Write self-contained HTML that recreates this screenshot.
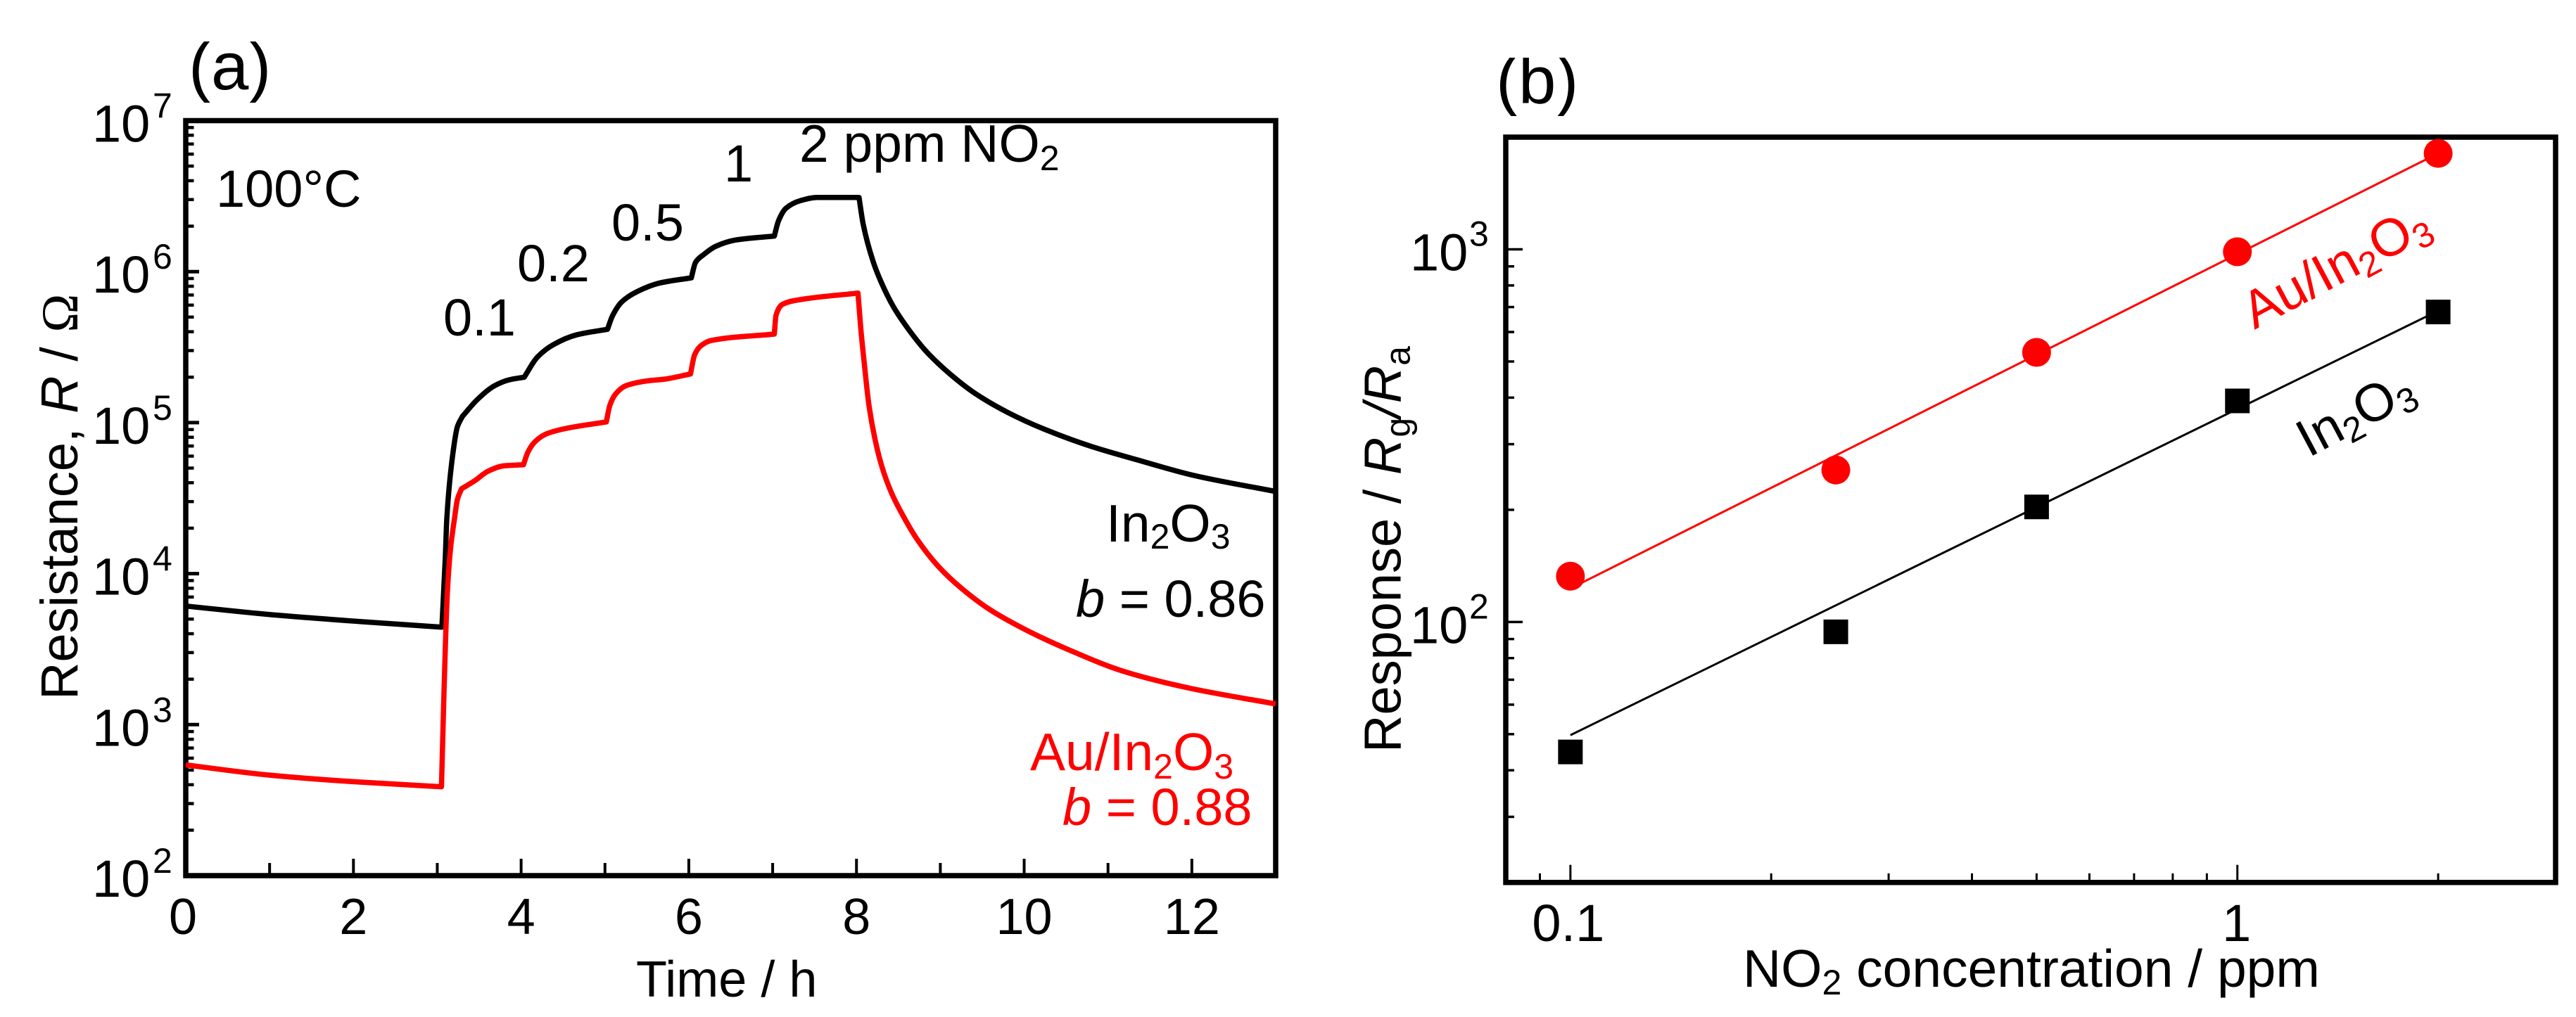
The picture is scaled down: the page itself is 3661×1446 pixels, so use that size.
<!DOCTYPE html>
<html lang="en">
<head>
<meta charset="utf-8">
<title>Resistance and response of In2O3 sensors to NO2</title>
<style>
html,body{margin:0;padding:0;background:#fff;width:3661px;height:1446px;overflow:hidden}
svg{display:block}
text{font-family:"Liberation Sans",Arial,sans-serif;font-size:74px;fill:#000}
.red{fill:#f00}
.lbl72{font-size:72px}
.big{font-size:75px}
.sub{font-size:50px}
</style>
</head>
<body>
<svg id="figure" xmlns="http://www.w3.org/2000/svg" width="3661" height="1446" viewBox="0 0 3661 1446">
<defs>
<clipPath id="clip-a"><rect x="240" y="59" width="160" height="87"/></clipPath>
<clipPath id="clip-b"><rect x="2110" y="82" width="140" height="83"/></clipPath>
</defs>
<rect width="3661" height="1446" fill="#fff"/>

<g id="panel-a"></g>
<g id="panel-b"></g>

<!-- Panel (a) text -->
<text x="268" y="127" style="font-size:96px" clip-path="url(#clip-a)">(a)</text>
<text transform="translate(110,995) rotate(-90)">Resistance, <tspan font-style="italic">R</tspan> / <tspan style="font-family:'Liberation Serif',serif">Ω</tspan></text>
<text x="904" y="1417" class="lbl72">Time / h</text>
<text x="307" y="294">100°C</text>
<text x="630" y="477">0.1</text>
<text x="735" y="400">0.2</text>
<text x="869" y="342">0.5</text>
<text x="1029" y="258">1</text>
<text x="1136" y="230" class="big">2 ppm NO<tspan class="sub" dy="12">2</tspan></text>
<text x="1572" y="770" class="big">In<tspan class="sub" dy="10">2</tspan><tspan class="big" dy="-10">O</tspan><tspan class="sub" dy="10">3</tspan></text>
<text x="1529" y="877"><tspan font-style="italic">b</tspan> = 0.86</text>
<text x="1464" y="1095" class="red big">Au/In<tspan class="sub red" dy="12">2</tspan><tspan class="red big" dy="-12">O</tspan><tspan class="sub red" dy="12">3</tspan></text>
<text x="1510" y="1173" class="red"><tspan class="red" font-style="italic">b</tspan> = 0.88</text>

<!-- Panel (b) text -->
<text x="2126" y="147" style="font-size:96px" clip-path="url(#clip-b)">(b)</text>
<text transform="translate(1990.5,1070) rotate(-90)">Response / <tspan font-style="italic">R</tspan><tspan class="sub" dy="13">g</tspan><tspan dy="-13" font-style="italic">/R</tspan><tspan class="sub" dy="13">a</tspan></text>
<text x="2477" y="1403" class="big">NO<tspan class="sub" dy="11">2</tspan><tspan class="big" dy="-11"> concentration / ppm</tspan></text>
<text transform="translate(3204,469) rotate(-28)" class="red big">Au/In<tspan class="sub red" dy="11">2</tspan><tspan class="red big" dy="-11">O</tspan><tspan class="sub red" dy="11">3</tspan></text>
<text transform="translate(3281,651) rotate(-28)" class="big">In<tspan class="sub" dy="11">2</tspan><tspan class="big" dy="-11">O</tspan><tspan class="sub" dy="11">3</tspan></text>

<script>
// ---------- Panel (a) data: Resistance (ohm) vs time (h) ----------
const aXMajorTicks = [0, 2, 4, 6, 8, 10, 12];
const aXMinorTicks = [1, 3, 5, 7, 9, 11];
const aYExponents = [2, 3, 4, 5, 6, 7];
const in2o3Time = [0, 1, 2, 3.055, 3.095, 3.114, 3.184, 3.24, 3.3, 3.477, 3.687, 3.855, 4.037, 4.19, 4.387, 4.666, 5.03, 5.09, 5.2, 5.39, 5.65, 6.03, 6.08, 6.18, 6.32, 6.56, 7.02, 7.07, 7.16, 7.33, 7.53, 8.03, 8.08, 8.2, 8.29, 8.443, 8.611, 8.835, 9.115, 9.423, 9.814, 10.233, 10.793, 11.353, 12.024, 13];
const in2o3Resistance = [6100, 5360, 4850, 4420, 12500, 23300, 61200, 94000, 110000, 142000, 176000, 192000, 200000, 270000, 329000, 382000, 415000, 510000, 630000, 740000, 840000, 910000, 1150000, 1300000, 1470000, 1620000, 1720000, 2170000, 2630000, 2950000, 3100000, 3100000, 2060000, 1160000, 863000, 582000, 422000, 295000, 210000, 155000, 116000, 90800, 69800, 56600, 44700, 35000];
const in2o3Knots = [3.055, 3.3, 4.037, 5.03, 6.03, 7.02, 8.03];
const auIn2o3Time = [0, 1, 2, 3.05, 3.08, 3.12, 3.16, 3.206, 3.24, 3.29, 3.449, 3.603, 3.8, 4.028, 4.079, 4.163, 4.303, 4.555, 5.016, 5.058, 5.128, 5.254, 5.506, 5.71, 6.02, 6.07, 6.15, 6.27, 7.02, 7.04, 7.12, 7.28, 8.018, 8.051, 8.093, 8.149, 8.219, 8.303, 8.415, 8.555, 8.722, 8.974, 9.254, 9.59, 10.065, 10.52, 11.19, 11.96, 13];
const auIn2o3Resistance = [541, 463, 419, 388, 1630, 7480, 15000, 23300, 31000, 36500, 41300, 47600, 51800, 52600, 63400, 74500, 84300, 92000, 101000, 130000, 155000, 176000, 189000, 194000, 210000, 282000, 325000, 350000, 386000, 513000, 608000, 646000, 721000, 422000, 247000, 130000, 78600, 51200, 34500, 24200, 16900, 11200, 7980, 5780, 4120, 3150, 2250, 1750, 1370];
const auIn2o3Knots = [3.05, 3.29, 4.028, 5.016, 6.02, 7.02, 8.018];

// ---------- Panel (b) data: Response vs NO2 concentration ----------
const bXMajorTicks = [0.1, 1];
const bXMinorTicks = [0.09, 0.2, 0.3, 0.4, 0.5, 0.6, 0.7, 0.8, 0.9, 2];
const bYMajorTicks = [100, 1000];
const bYMinorTicks = [30, 40, 50, 60, 70, 80, 90, 200, 300, 400, 500, 600, 700, 800, 900];
const concentrations = [0.1, 0.25, 0.5, 1, 2];
const auResponse = [132.7, 255.8, 529, 985, 1809];
const in2o3Response = [44.8, 94.1, 203.6, 392, 679];
const fitConcentrations = [0.1, 2];
const auFit = [123, 1809];
const in2o3Fit = [49.7, 684];

const NS = 'http://www.w3.org/2000/svg';
function create(parent, tag) {
  const el = document.createElementNS(NS, tag);
  parent.appendChild(el);
  return el;
}
function setLine(el, x1, y1, x2, y2, w, color) {
  el.setAttribute('x1', x1);
  el.setAttribute('y1', y1);
  el.setAttribute('x2', x2);
  el.setAttribute('y2', y2);
  el.setAttribute('stroke', color);
  el.setAttribute('stroke-width', w);
}
function setFrame(el, l, t, r, b, w) {
  el.setAttribute('x', l);
  el.setAttribute('y', t);
  el.setAttribute('width', r - l);
  el.setAttribute('height', b - t);
  el.setAttribute('fill', 'none');
  el.setAttribute('stroke', '#000');
  el.setAttribute('stroke-width', w);
}

// ---------- Panel (a) scales ----------
const aLeft = 264, aRight = 1813, aTop = 171.5, aBottom = 1245;
const ax = t => aLeft + (aRight - aLeft) * (t / 13);
const ay = v => aBottom - (aBottom - aTop) * ((Math.log10(v) - 2) / 5);

const gA = document.getElementById('panel-a');

const aFrame = create(gA, 'rect');


setFrame(aFrame, aLeft, aTop, aRight, aBottom, 7.5);

aXMajorTicks.forEach(t => {
  const tick = create(gA, 'line');
  
  
  setLine(tick, ax(t), aBottom, ax(t), aBottom - 24, 4, '#000');
  const label = create(gA, 'text');
  
  
  label.setAttribute('x', t === 0 ? ax(t) - 4 : ax(t));
  label.setAttribute('y', 1328);
  label.setAttribute('text-anchor', 'middle');
  label.setAttribute('class', 'lbl72');
  label.textContent = String(t);
});
aXMinorTicks.forEach(t => {
  const tick = create(gA, 'line');
  
  
  setLine(tick, ax(t), aBottom, ax(t), aBottom - 18, 4, '#000');
});
aYExponents.forEach(e => {
  const y = ay(Math.pow(10, e));
  if (e > 2 && e < 7) {
    const tick = create(gA, 'line');
    
    
    setLine(tick, aLeft, y, aLeft + 19, y, 5, '#000');
  }
  if (e < 7) {
    for (let m = 2; m <= 9; m++) {
      const my = ay(m * Math.pow(10, e));
      const minor = create(gA, 'line');
      
      
      setLine(minor, aLeft, my, aLeft + 11.5, my, 4.5, '#000');
    }
  }
  const base = create(gA, 'text');
  
  
  base.setAttribute('x', 131);
  base.setAttribute('y', y + 30);
  base.textContent = '10';
  const sup = create(gA, 'text');
  
  
  sup.setAttribute('x', 217);
  sup.setAttribute('y', y - 4);
  sup.setAttribute('style', 'font-size:50px');
  sup.textContent = String(e);
});

// Monotone cubic through the read points, with sharp corners at the knots.
function monotoneSegment(pts) {
  const n = pts.length;
  const slopes = [];
  for (let i = 0; i < n - 1; i++) {
    slopes.push((pts[i + 1][1] - pts[i][1]) / (pts[i + 1][0] - pts[i][0]));
  }
  const tan = [];
  for (let i = 0; i < n; i++) {
    if (i === 0) tan.push(slopes[0]);
    else if (i === n - 1) tan.push(slopes[n - 2]);
    else if (slopes[i - 1] * slopes[i] <= 0) tan.push(0);
    else {
      const h0 = pts[i][0] - pts[i - 1][0], h1 = pts[i + 1][0] - pts[i][0];
      tan.push(3 * (h0 + h1) / ((2 * h1 + h0) / slopes[i - 1] + (h1 + 2 * h0) / slopes[i]));
    }
  }
  let d = '';
  for (let i = 0; i < n - 1; i++) {
    const h = (pts[i + 1][0] - pts[i][0]) / 3;
    d += ' C' + (pts[i][0] + h).toFixed(2) + ',' + (pts[i][1] + tan[i] * h).toFixed(2) + ' ' +
      (pts[i + 1][0] - h).toFixed(2) + ',' + (pts[i + 1][1] - tan[i + 1] * h).toFixed(2) + ' ' +
      pts[i + 1][0].toFixed(2) + ',' + pts[i + 1][1].toFixed(2);
  }
  return d;
}
function curvePath(times, values, knots) {
  let d = 'M' + ax(times[0]).toFixed(2) + ',' + ay(values[0]).toFixed(2);
  let seg = [];
  times.forEach((t, i) => {
    seg.push([ax(t), ay(values[i])]);
    if (knots.indexOf(t) >= 0 || i === times.length - 1) {
      if (seg.length > 1) d += monotoneSegment(seg);
      seg = [[ax(t), ay(values[i])]];
    }
  });
  return d;
}

const in2o3Curve = create(gA, 'path');


in2o3Curve.setAttribute('d', curvePath(in2o3Time, in2o3Resistance, in2o3Knots));
in2o3Curve.setAttribute('fill', 'none');
in2o3Curve.setAttribute('stroke', '#000');
in2o3Curve.setAttribute('stroke-width', '7.5');
in2o3Curve.setAttribute('stroke-linejoin', 'round');

const auCurve = create(gA, 'path');


auCurve.setAttribute('d', curvePath(auIn2o3Time, auIn2o3Resistance, auIn2o3Knots));
auCurve.setAttribute('fill', 'none');
auCurve.setAttribute('stroke', '#f00');
auCurve.setAttribute('stroke-width', '7.5');
auCurve.setAttribute('stroke-linejoin', 'round');

// ---------- Panel (b) scales ----------
const bLeft = 2140, bRight = 3632, bTop = 195, bBottom = 1254.7;
const bLogXMin = Math.log10(0.08), bLogXMax = Math.log10(3);
const bLogYMin = Math.log10(20), bLogYMax = Math.log10(2000);
const bx = c => bLeft + (bRight - bLeft) * ((Math.log10(c) - bLogXMin) / (bLogXMax - bLogXMin));
const by = v => bBottom - (bBottom - bTop) * ((Math.log10(v) - bLogYMin) / (bLogYMax - bLogYMin));

const gB = document.getElementById('panel-b');

const bFrame = create(gB, 'rect');


setFrame(bFrame, bLeft, bTop, bRight, bBottom, 7.5);

bXMajorTicks.forEach(c => {
  const tick = create(gB, 'line');
  
  
  setLine(tick, bx(c), bBottom, bx(c), bBottom - 25, 3, '#000');
  const label = create(gB, 'text');
  
  
  label.setAttribute('x', c === 1 ? bx(c) - 1 : bx(c) - 3);
  label.setAttribute('y', 1338);
  label.setAttribute('text-anchor', 'middle');
  label.textContent = String(c);
});
bXMinorTicks.forEach(c => {
  const tick = create(gB, 'line');
  
  
  setLine(tick, bx(c), bBottom, bx(c), bBottom - 13, 3, '#000');
});
bYMajorTicks.forEach(v => {
  const y = by(v);
  const tick = create(gB, 'line');
  
  
  setLine(tick, bLeft, y, bLeft + 24, y, 3.5, '#000');
  const base = create(gB, 'text');
  
  
  base.setAttribute('x', 2004);
  base.setAttribute('y', y + 30);
  base.textContent = '10';
  const sup = create(gB, 'text');
  
  
  sup.setAttribute('x', 2088);
  sup.setAttribute('y', y - 5);
  sup.setAttribute('style', 'font-size:50px');
  sup.textContent = String(Math.round(Math.log10(v)));
});
bYMinorTicks.forEach(v => {
  const tick = create(gB, 'line');
  
  
  setLine(tick, bLeft, by(v), bLeft + 12, by(v), 3.5, '#000');
});

const auFitLine = create(gB, 'line');


setLine(auFitLine, bx(fitConcentrations[0]), by(auFit[0]), bx(fitConcentrations[1]), by(auFit[1]), 3, '#f00');

const in2o3FitLine = create(gB, 'line');


setLine(in2o3FitLine, bx(fitConcentrations[0]), by(in2o3Fit[0]), bx(fitConcentrations[1]), by(in2o3Fit[1]), 3, '#000');

concentrations.forEach((c, i) => {
  const dot = create(gB, 'circle');
  
  
  dot.setAttribute('cx', bx(c));
  dot.setAttribute('cy', by(auResponse[i]));
  dot.setAttribute('r', 20.5);
  dot.setAttribute('fill', '#f00');

  const sq = create(gB, 'rect');
  
  
  sq.setAttribute('x', bx(c) - 17.5);
  sq.setAttribute('y', by(in2o3Response[i]) - 17.5);
  sq.setAttribute('width', 35);
  sq.setAttribute('height', 35);
  sq.setAttribute('fill', '#000');
});
</script>
</svg>
</body>
</html>
